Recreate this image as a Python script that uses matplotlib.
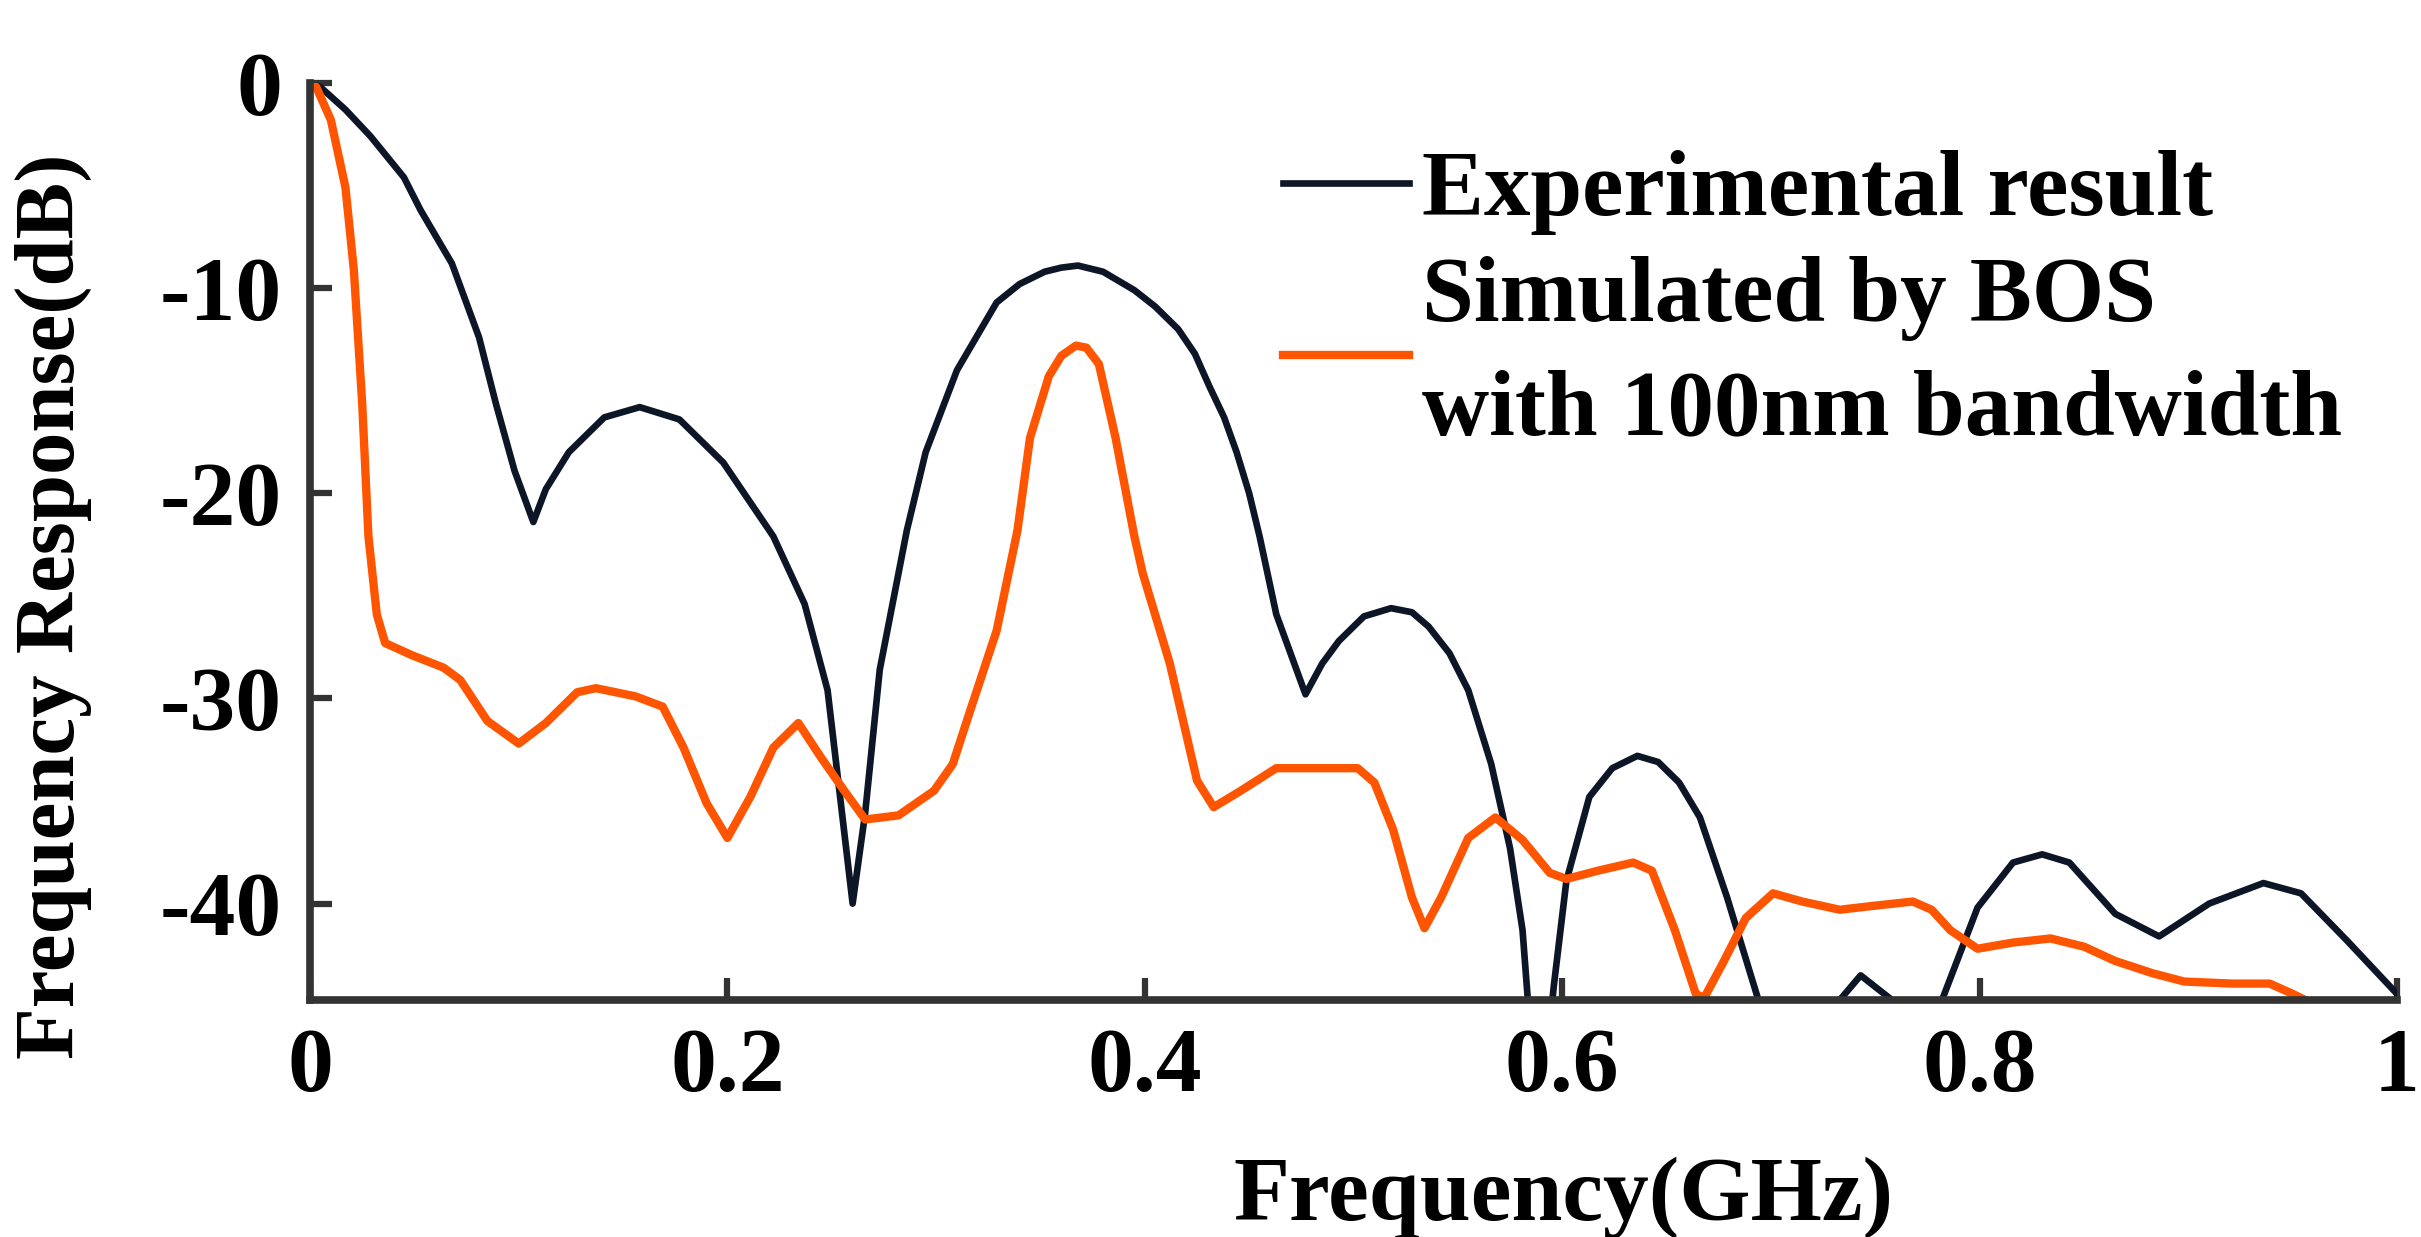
import numpy as np
import matplotlib
matplotlib.use("Agg")
import matplotlib.pyplot as plt

exp_freq = [0.000, 0.005, 0.017, 0.029, 0.045, 0.053, 0.068, 0.081, 0.089, 0.098,
            0.107, 0.113, 0.124, 0.141, 0.158, 0.177, 0.198, 0.222, 0.237, 0.248,
            0.254, 0.260, 0.266, 0.273, 0.286, 0.295, 0.310, 0.329, 0.340, 0.352,
            0.360, 0.368, 0.380, 0.395, 0.405, 0.416, 0.424, 0.431, 0.438, 0.444,
            0.450, 0.455, 0.463, 0.477, 0.485, 0.493, 0.505, 0.518, 0.528, 0.536,
            0.546, 0.555, 0.566, 0.575, 0.581, 0.586, 0.592, 0.596, 0.602, 0.613,
            0.624, 0.636, 0.646, 0.656, 0.666, 0.679, 0.694, 0.705, 0.725, 0.733,
            0.743, 0.758, 0.765, 0.775, 0.782, 0.799, 0.816, 0.830, 0.843, 0.865,
            0.886, 0.910, 0.936, 0.954, 0.976, 1.000]
exp_db = [0.0, -0.2, -1.3, -2.6, -4.6, -6.2, -8.8, -12.4, -15.6, -18.9,
          -21.4, -19.8, -18.0, -16.3, -15.8, -16.4, -18.5, -22.1, -25.4, -29.6,
          -34.8, -40.0, -35.6, -28.6, -21.8, -18.0, -14.0, -10.7, -9.8, -9.2,
          -9.0, -8.9, -9.2, -10.1, -10.9, -12.0, -13.2, -14.8, -16.3, -18.0,
          -20.0, -22.1, -25.9, -29.8, -28.3, -27.2, -26.0, -25.6, -25.8, -26.5,
          -27.8, -29.6, -33.2, -37.3, -41.3, -48.0, -48.0, -44.0, -38.9, -34.8,
          -33.4, -32.8, -33.1, -34.1, -35.8, -39.7, -44.7, -50.0, -50.0, -44.7,
          -43.5, -44.7, -50.0, -50.0, -44.7, -40.2, -38.0, -37.6, -38.0, -40.5,
          -41.6, -40.0, -39.0, -39.5, -41.8, -44.4]

# Simulated by BOS with 100nm bandwidth
sim_freq = [0.000, 0.003, 0.010, 0.017, 0.021, 0.025, 0.028, 0.032, 0.036, 0.049,
            0.064, 0.072, 0.085, 0.100, 0.113, 0.128, 0.137, 0.156, 0.169, 0.179,
            0.190, 0.200, 0.211, 0.222, 0.234, 0.245, 0.256, 0.266, 0.282, 0.299,
            0.308, 0.316, 0.329, 0.339, 0.345, 0.354, 0.360, 0.367, 0.372, 0.378,
            0.386, 0.395, 0.399, 0.412, 0.425, 0.433, 0.446, 0.463, 0.480, 0.502,
            0.510, 0.519, 0.528, 0.534, 0.542, 0.555, 0.568, 0.581, 0.594, 0.602,
            0.617, 0.634, 0.643, 0.654, 0.664, 0.668, 0.677, 0.688, 0.701, 0.715,
            0.733, 0.750, 0.768, 0.777, 0.786, 0.799, 0.816, 0.834, 0.850, 0.865,
            0.883, 0.898, 0.921, 0.939, 0.950, 0.958, 0.965]
sim_db = [0.0, -0.2, -1.8, -5.1, -9.1, -15.6, -22.1, -25.9, -27.3, -27.9,
          -28.5, -29.1, -31.1, -32.2, -31.2, -29.7, -29.5, -29.9, -30.4, -32.4,
          -35.1, -36.8, -34.8, -32.4, -31.2, -32.9, -34.5, -35.9, -35.7, -34.5,
          -33.2, -30.7, -26.7, -21.8, -17.3, -14.3, -13.3, -12.8, -12.9, -13.7,
          -17.3, -22.1, -23.9, -28.3, -34.0, -35.3, -34.5, -33.4, -33.4, -33.4,
          -34.1, -36.4, -39.7, -41.2, -39.7, -36.8, -35.8, -36.9, -38.5, -38.8,
          -38.4, -38.0, -38.4, -41.3, -44.4, -44.6, -42.9, -40.7, -39.5, -39.9,
          -40.3, -40.1, -39.9, -40.3, -41.3, -42.2, -41.9, -41.7, -42.1, -42.8,
          -43.4, -43.8, -43.9, -43.9, -44.4, -44.8, -46.0]

x_ticks = [0, 0.2, 0.4, 0.6, 0.8, 1]
x_ticklabels = ["0", "0.2", "0.4", "0.6", "0.8", "1"]
y_ticks = [0, -10, -20, -30, -40]
y_ticklabels = ["0", "-10", "-20", "-30", "-40"]

plt.rcParams["font.family"] = ["Liberation Serif", "DejaVu Serif"]
plt.rcParams["font.weight"] = "bold"
plt.rcParams["axes.unicode_minus"] = False

W, H = 2421, 1237
fig = plt.figure(figsize=(W / 100, H / 100), dpi=100)
ax = fig.add_axes([310 / W, 1 - 1000 / H, 2087 / W, 917 / H])

ax.plot(exp_freq, exp_db, color="#0d1626", lw=4.8, label="Experimental result",
        solid_joinstyle="round")
ax.plot(sim_freq, sim_db, color="#ff5500", lw=6.0,
        label="Simulated by BOS\nwith 100nm bandwidth", solid_joinstyle="round")

ax.set_xlim(0, 1)
ax.set_ylim(-44.7, 0)
ax.set_xticks(x_ticks)
ax.set_xticklabels(x_ticklabels)
ax.set_yticks(y_ticks)
ax.set_yticklabels(y_ticklabels)

for side in ["top", "right"]:
    ax.spines[side].set_visible(False)
for side in ["left", "bottom"]:
    ax.spines[side].set_linewidth(5.5)
    ax.spines[side].set_color("#333333")

ax.tick_params(direction="in", length=16, width=4.5, color="#333333",
               labelsize=66, pad=20)

ax.set_xlabel("Frequency(GHz)", fontsize=66, fontweight="bold")
ax.set_ylabel("Frequency Response(dB)", fontsize=61, fontweight="bold")
ax.xaxis.set_label_coords((1563 - 310) / 2087, -(1156 - 1000) / 917)
ax.yaxis.set_label_coords(-(310 - 92) / 2087, (1000 - 606) / 917)

leg = ax.legend(loc="upper left", bbox_to_anchor=(1283 / W, 1 - 150 / H),
                bbox_transform=fig.transFigure, frameon=False, fontsize=67,
                handlelength=1.35, handletextpad=0.14, borderpad=0,
                borderaxespad=0, labelspacing=0.22)
for t in leg.get_texts():
    t.set_linespacing(1.44)

fig.savefig("out.png", dpi=100)
